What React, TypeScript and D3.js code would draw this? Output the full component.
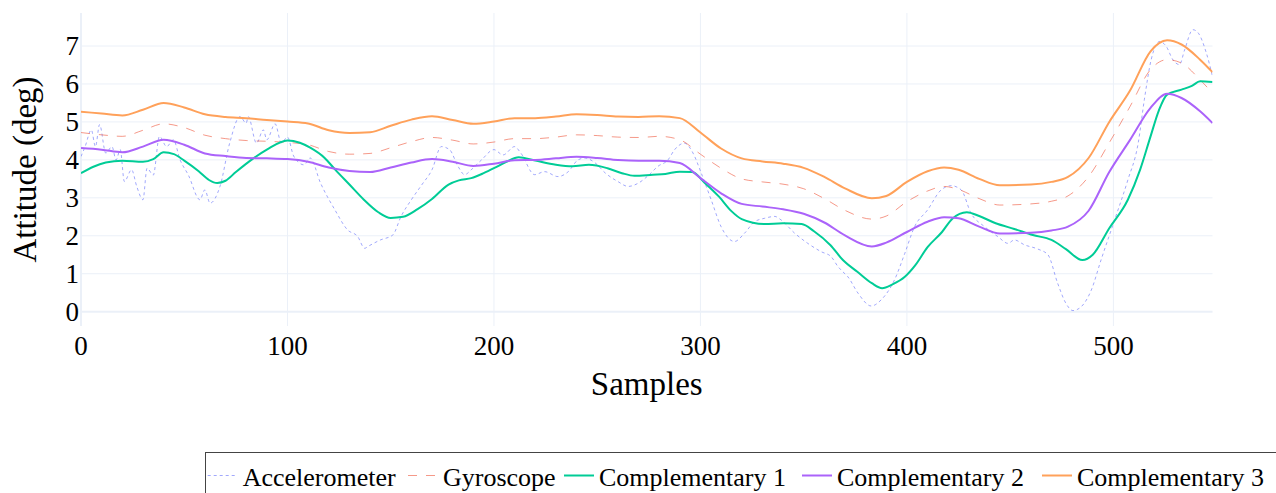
import React from 'react';
import * as d3 from 'd3';

type Pt = [number, number];

// sample index, attitude (deg)
const accelerometer: Pt[] = [
  [0, 4.09], [2, 4.35], [5, 4.79], [7, 4.35], [9, 4.93], [12, 4.18], [15, 4.35], [17, 4.0], [19, 4.27],
  [21, 3.43], [24.5, 3.74], [27, 3.3], [30, 2.95], [32, 3.78], [35, 3.6], [38, 4.62], [41.5, 4.35],
  [44.7, 4.53], [48, 4.0], [52, 3.6], [57.6, 2.95], [60, 3.21], [62.5, 2.86], [67.3, 3.3], [72, 4.44],
  [77, 5.14], [80, 4.97], [81, 5.14], [85, 4.44], [88.3, 4.79], [90, 4.53], [94, 4.95], [97, 4.45],
  [100, 4.6], [103, 4.1], [108, 3.87], [111, 4.05], [116, 3.39], [123, 2.68], [129, 2.16], [134, 1.98],
  [137.4, 1.67], [139, 1.72], [145, 1.89], [151, 2.02], [155, 2.51], [160, 2.95], [165, 3.34], [170, 3.74],
  [174.5, 4.35], [178.5, 4.27], [182.6, 3.83], [185.8, 3.61], [189, 3.74], [194, 4.0], [200, 4.27],
  [204.4, 4.13], [210, 4.35], [213, 4.18], [219.7, 3.61], [224.5, 3.69], [231, 3.56], [236, 3.69],
  [240.7, 4.0], [244, 4.05], [249, 3.92], [254, 3.65], [260, 3.43], [265, 3.3], [270, 3.39], [274.6, 3.58],
  [279.4, 3.83], [284.3, 4.0], [287.5, 4.27], [292.3, 4.44], [296.4, 4.18], [300.4, 3.65], [305.2, 2.95],
  [310, 2.24], [316.5, 1.85], [321.4, 2.07], [326.2, 2.37], [331, 2.46], [336, 2.51], [339, 2.42],
  [345.6, 2.07], [352, 1.8], [358.5, 1.58], [363.3, 1.45], [366.6, 1.19], [369, 1.05], [371.4, 0.92],
  [376.3, 0.49], [382.7, 0.15], [387.5, 0.31], [394, 0.84], [399, 1.54], [403.7, 2.24], [410, 2.68],
  [416.6, 3.21], [421.5, 3.32], [426.3, 3.21], [431, 2.6], [437.6, 2.24], [444, 1.98], [449, 1.8],
  [452, 1.89], [457, 1.76], [463.4, 1.65], [468.3, 1.5], [473, 0.75], [477, 0.22], [480.4, 0.03],
  [484.4, 0.13], [489.3, 0.57], [494, 1.36], [500.6, 2.42], [507, 3.47], [512, 4.44], [515, 5.59],
  [518.3, 6.64], [522.4, 7.12], [525.6, 6.99], [528.8, 6.64], [532, 6.51], [534.5, 6.9], [538.5, 7.43],
  [541, 7.35], [545, 6.82], [548, 6.2],
];

const gyroscope: Pt[] = [
  [0, 4.72], [10, 4.66], [20, 4.62], [30, 4.78], [40, 4.95], [50, 4.85], [60, 4.65], [70, 4.56], [80, 4.51],
  [90, 4.49], [100, 4.46], [110, 4.4], [120, 4.22], [130, 4.15], [140, 4.17], [150, 4.32], [160, 4.48],
  [170, 4.59], [180, 4.52], [190, 4.42], [200, 4.47], [210, 4.56], [220, 4.56], [230, 4.6], [240, 4.66],
  [250, 4.64], [260, 4.6], [270, 4.59], [280, 4.62], [290, 4.53], [300, 4.15], [310, 3.78], [320, 3.5],
  [330, 3.42], [340, 3.36], [350, 3.24], [360, 2.98], [370, 2.67], [383, 2.44], [390, 2.52], [400, 2.9],
  [410, 3.18], [418, 3.3], [425, 3.22], [435, 2.98], [445, 2.81], [460, 2.84], [470, 2.91], [478, 3.05],
  [488, 3.56], [498, 4.45], [508, 5.4], [518, 6.38], [526, 6.64], [533, 6.55], [542, 6.11], [548, 5.76],
];

const complementary1: Pt[] = [
  [0, 3.65], [6, 3.82], [12, 3.93], [20, 3.98], [30, 3.95], [35, 4.02], [40, 4.2], [45, 4.15], [50, 3.98],
  [57, 3.7], [62, 3.47], [66, 3.39], [70, 3.45], [75, 3.68], [83, 4.02], [90, 4.27], [100, 4.51],
  [106, 4.45], [111, 4.32], [118, 4.05], [123, 3.75], [130, 3.35], [137, 2.95], [144, 2.62], [150, 2.47],
  [156, 2.5], [163, 2.7], [170, 2.97], [178, 3.35], [183, 3.46], [189, 3.52], [195, 3.65], [200, 3.78],
  [206, 3.95], [212, 4.07], [220, 3.98], [230, 3.87], [238, 3.83], [246, 3.87], [255, 3.78], [262, 3.65],
  [268, 3.58], [277, 3.61], [283, 3.63], [290, 3.69], [296, 3.68], [302, 3.4], [309, 3.03], [315, 2.65],
  [320, 2.44], [331, 2.31], [340, 2.33], [349, 2.31], [355, 2.12], [363, 1.75], [369, 1.36], [376, 1.05],
  [383, 0.75], [388, 0.62], [393, 0.72], [399, 0.92], [404, 1.22], [410, 1.7], [417, 2.1], [422, 2.45],
  [429, 2.62], [435, 2.52], [443, 2.33], [452, 2.18], [461, 2.02], [470, 1.89], [477, 1.65], [485, 1.36],
  [490, 1.5], [498, 2.2], [507, 2.95], [513, 3.75], [518, 4.62], [522, 5.3], [526, 5.72], [533, 5.85],
  [538, 5.95], [542, 6.07], [548, 6.05],
];

const complementary2: Pt[] = [
  [0, 4.31], [10, 4.27], [20, 4.2], [30, 4.35], [40, 4.53], [50, 4.4], [60, 4.17], [70, 4.1], [80, 4.05],
  [90, 4.04], [100, 4.02], [110, 3.95], [120, 3.8], [130, 3.71], [140, 3.68], [150, 3.8], [160, 3.93],
  [170, 4.02], [180, 3.95], [190, 3.84], [200, 3.9], [210, 3.99], [220, 4.0], [230, 4.04], [240, 4.08],
  [250, 4.05], [260, 4.0], [270, 3.98], [280, 3.98], [290, 3.92], [300, 3.52], [310, 3.12], [320, 2.84],
  [330, 2.77], [340, 2.7], [350, 2.58], [360, 2.35], [370, 2.01], [383, 1.72], [390, 1.82], [400, 2.1],
  [410, 2.37], [418, 2.49], [425, 2.46], [435, 2.24], [445, 2.06], [460, 2.08], [470, 2.14], [478, 2.24],
  [488, 2.66], [498, 3.68], [508, 4.52], [518, 5.37], [526, 5.74], [533, 5.63], [542, 5.28], [548, 4.97],
];

const complementary3: Pt[] = [
  [0, 5.27], [10, 5.22], [20, 5.17], [30, 5.32], [40, 5.5], [50, 5.38], [60, 5.2], [70, 5.13], [80, 5.1],
  [90, 5.05], [100, 5.01], [110, 4.96], [120, 4.78], [130, 4.71], [140, 4.73], [150, 4.9], [160, 5.06],
  [170, 5.15], [180, 5.05], [190, 4.95], [200, 5.01], [210, 5.1], [220, 5.1], [230, 5.14], [240, 5.2],
  [250, 5.18], [260, 5.14], [270, 5.13], [280, 5.15], [290, 5.1], [300, 4.72], [310, 4.3], [320, 4.04],
  [330, 3.96], [340, 3.9], [350, 3.79], [360, 3.55], [370, 3.25], [383, 2.99], [390, 3.05], [400, 3.42],
  [410, 3.7], [418, 3.8], [425, 3.74], [435, 3.5], [445, 3.33], [460, 3.35], [470, 3.42], [478, 3.55],
  [488, 4.05], [498, 5.0], [508, 5.82], [518, 6.86], [526, 7.15], [533, 7.04], [542, 6.64], [548, 6.31],
];

const seriesNames = ['Accelerometer', 'Gyroscope', 'Complementary 1', 'Complementary 2', 'Complementary 3'];
const seriesData = [accelerometer, gyroscope, complementary1, complementary2, complementary3];
const xTicks = [0, 100, 200, 300, 400, 500];
const yTicks = [0, 1, 2, 3, 4, 5, 6, 7];

const styles = [
  { color: '#636efa', width: 1, dash: '3,3', opacity: 0.6 },
  { color: '#ef553b', width: 1, dash: '9,9', opacity: 0.6 },
  { color: '#00cc96', width: 2, dash: '', opacity: 1 },
  { color: '#ab63fa', width: 2, dash: '', opacity: 1 },
  { color: '#ffa15a', width: 2, dash: '', opacity: 1 },
];
const legendTextX = [242.7, 443, 599, 837, 1077];

const W = 1276;
const H = 493;
const plot = { left: 81, right: 1212.5, top: 13, bottom: 326 };
const font = '"Liberation Serif", "Times New Roman", serif';
const grid = '#ebf0f8';

const App: React.FC = () => {
  const x = d3.scaleLinear().domain([0, 548]).range([plot.left, plot.right]);
  const y = d3.scaleLinear().domain([-0.377, 7.87]).range([plot.bottom, plot.top]);

  const line = d3.line<Pt>()
    .x(d => x(d[0]))
    .y(d => y(d[1]))
    .curve(d3.curveMonotoneX);

  return (
    <svg
      width={W}
      height={H}
      style={{ position: 'absolute', left: 0, top: 0, background: '#fff' }}
    >
      <defs>
        <clipPath id="plot-clip">
          <rect x={plot.left} y={plot.top} width={plot.right - plot.left} height={plot.bottom - plot.top} />
        </clipPath>
      </defs>

      {/* grid */}
      {xTicks.map(t => (
        <line key={'gx' + t} x1={x(t)} x2={x(t)} y1={plot.top} y2={plot.bottom}
          stroke={grid} strokeWidth={t === 0 ? 2 : 1} />
      ))}
      {yTicks.map(t => (
        <line key={'gy' + t} x1={plot.left} x2={plot.right} y1={y(t)} y2={y(t)}
          stroke={grid} strokeWidth={t === 0 ? 2 : 1} />
      ))}

      {/* series */}
      <g clipPath="url(#plot-clip)">
        {seriesData.map((data, i) => (
          <path
            key={seriesNames[i]}
            d={line(data) || ''}
            fill="none"
            stroke={styles[i].color}
            strokeWidth={styles[i].width}
            strokeDasharray={styles[i].dash || undefined}
            strokeOpacity={styles[i].opacity}
          />
        ))}
      </g>

      {/* tick labels */}
      {xTicks.map(t => (
        <text key={'tx' + t} x={x(t)} y={346} textAnchor="middle" dominantBaseline="central"
          fontFamily={font} fontSize={27} fill="#000">{t}</text>
      ))}
      {yTicks.map(t => (
        <text key={'ty' + t} x={79} y={y(t)} textAnchor="end" dominantBaseline="central"
          fontFamily={font} fontSize={27} fill="#000">{t}</text>
      ))}

      {/* axis titles */}
      <text x={(plot.left + plot.right) / 2} y={395} textAnchor="middle"
        fontFamily={font} fontSize={33} fill="#000">Samples</text>
      <text transform={`translate(36, ${(plot.top + plot.bottom) / 2}) rotate(-90)`} textAnchor="middle"
        fontFamily={font} fontSize={33} fill="#000">Attitude (deg)</text>

      {/* legend */}
      <rect x={205.5} y={452.5} width={1200} height={100} fill="#fff" stroke="#444" strokeWidth={1} />
      {seriesNames.map((name, i) => (
        <g key={'lg' + name}>
          <line x1={legendTextX[i] - 35} x2={legendTextX[i] - 5} y1={475.5} y2={475.5}
            stroke={styles[i].color} strokeWidth={styles[i].width}
            strokeDasharray={styles[i].dash || undefined} strokeOpacity={styles[i].opacity} />
          <text x={legendTextX[i]} y={485.7} fontFamily={font} fontSize={26} fill="#000">{name}</text>
        </g>
      ))}
    </svg>
  );
};

export default App;
